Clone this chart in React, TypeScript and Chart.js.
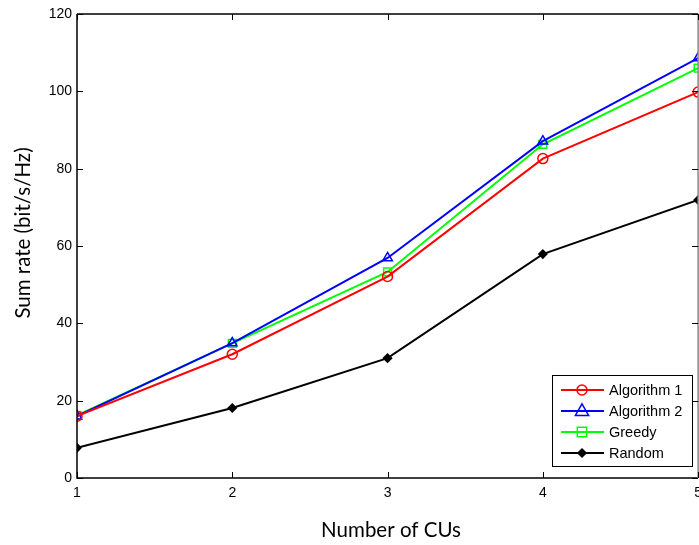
import React, { useEffect, useRef } from "react";
import { Chart, registerables } from "chart.js";

Chart.register(...registerables);

const categories = [1, 2, 3, 4, 5];
const algorithm1 = [16.0, 32.0, 52.1, 82.6, 99.8];
const algorithm2 = [16.0, 34.9, 56.9, 87.1, 108.6];
const greedy = [16.2, 34.8, 53.3, 86.3, 106.0];
const random = [7.8, 18.1, 31.0, 57.9, 71.9];
const yTicks = [0, 20, 40, 60, 80, 100, 120];
const seriesNames = ["Algorithm 1", "Algorithm 2", "Greedy", "Random"];
const xTitle = "Number of CUs";
const yTitle = "Sum rate (bit/s/Hz)";

const LEGEND_FONT = "14.5px 'Liberation Sans', Arial, sans-serif";
const TITLE_FONT = "20.5px Lato, 'Open Sans', sans-serif";

const framePlugin = {
  id: "frame",
  afterDraw(chart: any) {
    const { ctx, chartArea: a, scales } = chart;
    const x = scales.x;
    const y = scales.y;
    ctx.save();
    ctx.strokeStyle = "#000";
    ctx.lineWidth = 1.5;
    ctx.beginPath();
    ctx.moveTo(a.left, a.top);
    ctx.lineTo(a.right, a.top);
    ctx.moveTo(a.left, a.top);
    ctx.lineTo(a.left, a.bottom);
    ctx.lineTo(a.right, a.bottom);
    ctx.stroke();
    ctx.strokeStyle = "#888";
    ctx.beginPath();
    ctx.moveTo(a.right, a.top);
    ctx.lineTo(a.right, a.bottom);
    ctx.stroke();
    ctx.strokeStyle = "#000";
    ctx.lineWidth = 1;
    ctx.beginPath();
    for (const v of categories) {
      const px = Math.round(x.getPixelForValue(v)) + 0.5;
      ctx.moveTo(px, a.bottom);
      ctx.lineTo(px, a.bottom - 6);
      ctx.moveTo(px, a.top);
      ctx.lineTo(px, a.top + 6);
    }
    for (const v of yTicks) {
      const py = Math.round(y.getPixelForValue(v)) + 0.5;
      ctx.moveTo(a.left, py);
      ctx.lineTo(a.left + 6, py);
      ctx.moveTo(a.right, py);
      ctx.lineTo(a.right - 6, py);
    }
    ctx.stroke();

    // axis titles
    ctx.fillStyle = "#000";
    ctx.font = TITLE_FONT;
    ctx.textAlign = "center";
    ctx.textBaseline = "middle";
    ctx.fillText(xTitle, 391, 530);
    ctx.save();
    ctx.translate(23, 233);
    ctx.rotate(-Math.PI / 2);
    ctx.fillText(yTitle, 0, 0);
    ctx.restore();

    // legend
    const lx = 552, ly = 375, lw = 140, lh = 91;
    ctx.fillStyle = "#fff";
    ctx.fillRect(lx, ly, lw, lh);
    ctx.strokeStyle = "#000";
    ctx.lineWidth = 1;
    ctx.strokeRect(lx + 0.5, ly + 0.5, lw, lh);
    const rows = [390, 411, 432, 453];
    chart.data.datasets.forEach((ds: any, i: number) => {
      const ry = rows[i];
      ctx.strokeStyle = ds.borderColor;
      ctx.lineWidth = 2;
      ctx.beginPath();
      ctx.moveTo(561, ry);
      ctx.lineTo(604, ry);
      ctx.stroke();
      ctx.strokeStyle = ds.pointBorderColor;
      ctx.fillStyle = ds.pointBackgroundColor;
      ctx.lineWidth = ds.pointBorderWidth;
      const cx = 582;
      ctx.beginPath();
      const r = ds.pointRadius;
      if (ds.pointStyle === "circle") {
        ctx.arc(cx, ry, r, 0, Math.PI * 2);
      } else if (ds.pointStyle === "triangle") {
        ctx.moveTo(cx, ry - r * 1.3);
        ctx.lineTo(cx + r * 1.2, ry + r * 0.8);
        ctx.lineTo(cx - r * 1.2, ry + r * 0.8);
        ctx.closePath();
      } else if (ds.pointStyle === "rect") {
        ctx.rect(cx - r * 0.85, ry - r * 0.85, r * 1.7, r * 1.7);
      } else {
        ctx.moveTo(cx, ry - r);
        ctx.lineTo(cx + r, ry);
        ctx.lineTo(cx, ry + r);
        ctx.lineTo(cx - r, ry);
        ctx.closePath();
      }
      if (ds.pointStyle === "rectRot") ctx.fill();
      ctx.stroke();
      ctx.fillStyle = "#000";
      ctx.font = LEGEND_FONT;
      ctx.textAlign = "left";
      ctx.textBaseline = "middle";
      ctx.fillText(ds.label, 609, ry + 1);
    });
    ctx.restore();
  },
};

export default function App() {
  const ref = useRef<HTMLCanvasElement>(null);
  useEffect(() => {
    const mk = (label: string, data: number[], color: string, style: string, radius: number, filled: boolean) => ({
      label,
      data: categories.map((c, i) => ({ x: c, y: data[i] })),
      borderColor: color,
      backgroundColor: color,
      borderWidth: 2,
      pointStyle: style,
      pointRadius: radius,
      pointBorderColor: color,
      pointBackgroundColor: filled ? color : "rgba(0,0,0,0)",
      pointBorderWidth: 1.5,
      tension: 0,
    });
    const chart = new Chart(ref.current!, {
      type: "line",
      data: {
        datasets: [
          mk(seriesNames[0], algorithm1, "#ff0000", "circle", 5, false),
          mk(seriesNames[1], algorithm2, "#0000ff", "triangle", 5.5, false),
          mk(seriesNames[2], greedy, "#00ff00", "rect", 5.5, false),
          mk(seriesNames[3], random, "#000000", "rectRot", 4, true),
        ] as any,
      },
      options: {
        animation: false,
        responsive: false,
        layout: { padding: { left: 0, right: 1, top: 14, bottom: 0 } },
        plugins: { legend: { display: false }, tooltip: { enabled: false } },
        scales: {
          x: {
            type: "linear",
            min: 1,
            max: 5,
            afterFit(scale: any) {
              scale.height = 67;
            },
            afterBuildTicks(scale: any) {
              scale.ticks = categories.map((v) => ({ value: v }));
            },
            grid: { display: false, drawTicks: false },
            border: { display: false },
            ticks: {
              padding: 7,
              color: "#000",
              font: { family: "'Liberation Sans', Arial, sans-serif", size: 14 },
              maxRotation: 0,
              autoSkip: false,
            },
          },
          y: {
            min: 0,
            max: 120,
            afterFit(scale: any) {
              scale.width = 77;
            },
            afterBuildTicks(scale: any) {
              scale.ticks = yTicks.map((v) => ({ value: v }));
            },
            grid: { display: false, drawTicks: false },
            border: { display: false },
            ticks: {
              padding: 5,
              color: "#000",
              font: { family: "'Liberation Sans', Arial, sans-serif", size: 14 },
            },
          },
        },
      },
      plugins: [framePlugin],
    });
    return () => chart.destroy();
  }, []);
  return (
    <div style={{ position: "fixed", left: 0, top: 0, width: 699, height: 545, background: "#fff", overflow: "hidden" }}>
      <canvas ref={ref} width={709} height={545} style={{ display: "block" }} />
    </div>
  );
}
